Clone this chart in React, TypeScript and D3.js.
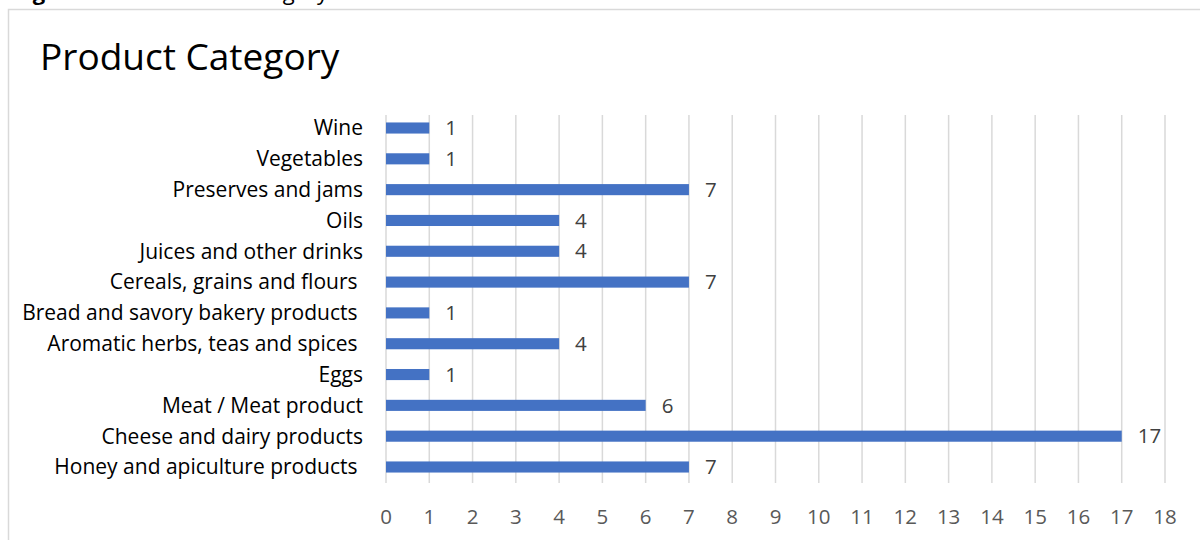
import React from "react";
import * as d3 from "d3";

// Number of products per category (listed top to bottom)
const categories = [
  "Wine",
  "Vegetables",
  "Preserves and jams",
  "Oils",
  "Juices and other drinks",
  "Cereals, grains and flours ",
  "Bread and savory bakery products ",
  "Aromatic herbs, teas and spices ",
  "Eggs",
  "Meat / Meat product",
  "Cheese and dairy products",
  "Honey and apiculture products ",
];
const counts = [1, 1, 7, 4, 4, 7, 1, 4, 1, 6, 17, 7];
const xTicks = d3.range(0, 19);

const W = 1200;
const H = 540;
const FONT = "'Open Sans', 'Segoe UI', sans-serif";

export default function App() {
  const x = d3.scaleLinear().domain([0, 18]).range([386, 1165]);
  const y = d3
    .scaleBand<string>()
    .domain(categories)
    .range([112.6, 482.4])
    .paddingInner(0.64)
    .paddingOuter(0.32);

  const gridTop = 115;
  const gridBottom = 483;

  return (
    <svg
      width={W}
      height={H}
      style={{ position: "absolute", left: 0, top: 0, background: "#fff" }}
      fontFamily={FONT}
    >
      <rect x={0} y={0} width={W} height={H} fill="#fff" />
      {/* caption above the chart frame */}
      <text y={0} fontSize={22} fill="#000">
        <tspan x={14} fontWeight="bold">Figure 2:</tspan>
        <tspan x={150}>Product Category</tspan>
      </text>
      {/* chart frame */}
      <rect x={8.5} y={9.5} width={W + 20} height={H + 20} fill="none" stroke="#d9d9d9" strokeWidth={1.5} />

      <text x={40} y={70} fontSize={37} fill="#000">
        Product Category
      </text>

      {/* vertical gridlines */}
      {xTicks.map((t) => (
        <line
          key={`g${t}`}
          x1={x(t)}
          x2={x(t)}
          y1={gridTop}
          y2={gridBottom}
          stroke="#d9d9d9"
          strokeWidth={1.5}
        />
      ))}

      {/* x tick labels */}
      {xTicks.map((t) => (
        <text
          key={`t${t}`}
          x={x(t)}
          y={524}
          fontSize={20.5}
          fill="#595959"
          textAnchor="middle"
        >
          {t}
        </text>
      ))}

      {/* bars */}
      {categories.map((c, i) => (
        <rect
          key={`b${c}`}
          x={x(0)}
          y={y(c)!}
          width={x(counts[i]) - x(0)}
          height={y.bandwidth()}
          fill="#4472c4"
        />
      ))}

      {/* category labels */}
      {categories.map((c) => (
        <text
          key={`c${c}`}
          x={363}
          y={y(c)! + y.bandwidth() / 2}
          dy="0.35em"
          fontSize={21}
          fill="#000"
          textAnchor="end"
          style={{ whiteSpace: "pre" }}
        >
          {c}
        </text>
      ))}

      {/* value labels */}
      {categories.map((c, i) => (
        <text
          key={`v${c}`}
          x={x(counts[i]) + 16}
          y={y(c)! + y.bandwidth() / 2}
          dy="0.35em"
          fontSize={20.5}
          fill="#404040"
        >
          {counts[i]}
        </text>
      ))}
    </svg>
  );
}
